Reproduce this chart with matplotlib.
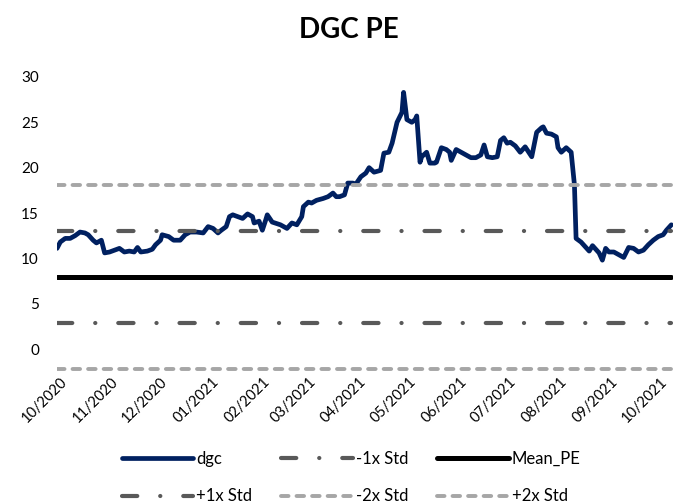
import numpy as np
import pandas as pd
import matplotlib
matplotlib.use("Agg")
import matplotlib.pyplot as plt
import matplotlib.dates as mdates

plt.rcParams['font.family'] = ['Lato', 'DejaVu Sans']
plt.rcParams['lines.scale_dashes'] = False

# days after 2020-10-01 and the PE
days = [-2, 0, 3, 6, 9, 12, 15, 17, 20, 22, 25, 27, 30, 33, 36, 39, 42, 45, 47, 49,
        53, 56, 58, 61, 62, 66, 69, 73, 76, 79, 83, 87, 90, 93, 96, 98, 101, 103, 105, 108,
        111, 114, 117, 118, 121, 123, 125, 126, 129, 134, 138, 141, 144, 147, 148, 151, 153, 156, 160, 163,
        166, 168, 170, 173, 175, 178, 180, 183, 186, 188, 191, 195, 197, 200, 202, 205, 208, 209, 211, 214,
        216, 217, 219, 220, 223, 225, 228, 229, 232, 235, 237, 238, 241, 244, 247, 250, 253, 256, 258, 260,
        263, 266, 268, 270, 272, 274, 277, 280, 283, 287, 290, 293, 294, 296, 299, 302, 303, 305, 308, 311,
        313, 314, 317, 320, 322, 324, 326, 328, 330, 332, 334, 337, 340, 343, 346, 349, 352, 355, 358, 361,
        364, 367, 369, 372]
pe = [11.1, 11.8, 12.2, 12.2, 12.5, 12.9, 12.8, 12.6, 12.0, 11.7, 12.0, 10.6, 10.7, 10.9, 11.1, 10.7, 10.8, 10.7, 11.2, 10.7,
      10.8, 11.0, 11.5, 12.0, 12.6, 12.4, 12.0, 12.0, 12.6, 12.9, 12.9, 12.8, 13.5, 13.3, 12.8, 13.1, 13.5, 14.6, 14.8, 14.6,
      14.4, 14.9, 14.6, 13.9, 14.1, 13.1, 14.2, 14.8, 14.0, 13.7, 13.3, 13.9, 13.7, 14.6, 15.7, 16.2, 16.1, 16.4, 16.6, 16.8,
      17.2, 16.8, 16.8, 17.0, 18.3, 18.3, 18.2, 19.0, 19.4, 20.0, 19.5, 19.7, 21.6, 21.7, 22.7, 25.0, 26.1, 28.3, 25.3, 25.0,
      25.3, 25.7, 20.6, 21.2, 21.7, 20.5, 20.5, 20.6, 22.2, 22.0, 21.7, 20.8, 22.0, 21.7, 21.4, 21.1, 21.1, 21.4, 22.5, 21.2,
      21.1, 21.2, 23.0, 23.3, 22.7, 22.8, 22.4, 21.7, 22.3, 21.2, 23.9, 24.4, 24.5, 23.8, 23.7, 23.4, 22.2, 21.7, 22.2, 21.7,
      18.1, 12.2, 11.8, 11.2, 10.8, 11.4, 11.0, 10.6, 9.8, 11.1, 10.7, 10.7, 10.4, 10.1, 11.2, 11.1, 10.7, 10.9, 11.5, 12.0,
      12.4, 12.6, 13.1, 13.7]

mean_pe = 7.95
std_pe = 5.05

dates = pd.Timestamp('2020-10-01') + pd.to_timedelta(days, unit='D')
flat = np.ones(len(dates))

fig = plt.figure(figsize=(6.73, 5.03), dpi=100)
ax = fig.add_axes([0.0847, 0.261, 0.9153, 0.586])

dashdot = (0, (11, 16.5, 0.1, 16.5))
dashed = (0, (5.4, 5.8))
dark = '#595959'
light = '#A6A6A6'

h_dgc, = ax.plot(dates, pe, color='#002060', lw=3.4, solid_joinstyle='round', label='dgc')
h_m1, = ax.plot(dates, flat * (mean_pe - std_pe), color=dark, lw=3, ls=dashdot,
                dash_capstyle='round', label='-1x Std')
h_mean, = ax.plot(dates, flat * mean_pe, color='black', lw=3.6, label='Mean_PE')
h_p1, = ax.plot(dates, flat * (mean_pe + std_pe), color=dark, lw=3, ls=dashdot,
                dash_capstyle='round', label='+1x Std')
h_m2, = ax.plot(dates, flat * (mean_pe - 2 * std_pe), color=light, lw=2.8, ls=dashed,
                dash_capstyle='round', label='-2x Std')
h_p2, = ax.plot(dates, flat * (mean_pe + 2 * std_pe), color=light, lw=2.8, ls=dashed,
                dash_capstyle='round', label='+2x Std')
h_dgc.set_solid_capstyle('round')
h_mean.set_solid_capstyle('round')

ax.set_xlim(dates[0], dates[-1] + pd.Timedelta(days=1))
ax.set_ylim(-2.5, 30)
ax.set_yticks(range(0, 31, 5))
ax.xaxis.set_major_locator(mdates.MonthLocator())
ax.xaxis.set_major_formatter(mdates.DateFormatter('%m/%Y'))
for s in ax.spines.values():
    s.set_visible(False)
ax.tick_params(axis='y', length=0, pad=13, labelsize=11, colors='black')
ax.tick_params(axis='x', length=0, pad=2, labelsize=10.5, colors='black')
plt.setp(ax.get_xticklabels(), rotation=45, ha='right', rotation_mode='anchor')

fig.text(0.519, 0.94, 'DGC PE', ha='center', va='center', fontsize=20, fontweight='bold')

handles = [h_dgc, h_p1, h_m1, h_m2, h_mean, h_p2]
fig.legend(handles=handles, labels=[h.get_label() for h in handles], ncol=3,
           loc='upper left', bbox_to_anchor=(0.181, 0.104), frameon=False,
           fontsize=12, handlelength=4.3, handletextpad=0.18, columnspacing=1.72,
           labelspacing=1.3, borderpad=0, borderaxespad=0)

plt.savefig('out.png', dpi=100)
